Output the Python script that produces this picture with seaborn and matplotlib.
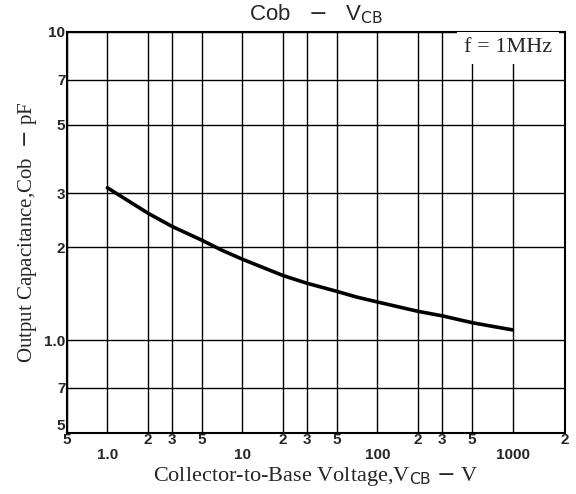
import numpy as np
import pandas as pd
import matplotlib
matplotlib.use('Agg')
import matplotlib.pyplot as plt
import seaborn as sns

# Data
vcb = [1, 2, 3, 5, 7, 10, 20, 30, 50, 70, 100, 200, 300, 500, 700, 1000]
cob = [3.12, 2.58, 2.34, 2.11, 1.96, 1.83, 1.62, 1.53, 1.44, 1.38, 1.33, 1.24, 1.20, 1.14, 1.11, 1.08]

x_left, x_right = 0.5, 2450
x_major = [1, 10, 100, 1000]
x_major_labels = ['1.0', '10', '100', '1000']
x_minor = [0.5, 2, 3, 5, 20, 30, 50, 200, 300, 500, x_right]
x_minor_labels = ['5', '2', '3', '5', '2', '3', '5', '2', '3', '5', '2']
y_ticks = [0.5, 0.7, 1, 2, 3, 5, 7, 10]
y_labels = ['5', '7', '1.0', '2', '3', '5', '7', '10']

df = pd.DataFrame({'VCB': vcb, 'Cob': cob})

sns.set_style('white')
plt.rcParams['font.family'] = ['Liberation Sans', 'DejaVu Sans']

fig = plt.figure(figsize=(5.76, 4.94), dpi=100)
ax = fig.add_axes([0.116, 0.1235, 0.865, 0.812])

sns.lineplot(data=df, x='VCB', y='Cob', color='black', linewidth=2.6, ax=ax)

ax.set_xscale('log')
ax.set_yscale('log')
ax.set_xlim(x_left, x_right)
ax.set_ylim(0.5, 10)

ax.set_xticks(x_major)
ax.set_xticklabels(x_major_labels, fontweight='bold', fontsize=11)
ax.set_xticks(x_minor, minor=True)
ax.set_xticklabels(x_minor_labels, minor=True, fontweight='bold', fontsize=11)
ax.tick_params(axis='x', which='major', length=0, pad=11)
ax.tick_params(axis='x', which='minor', length=0, pad=0)

ax.set_yticks(y_ticks)
ax.set_yticklabels(y_labels, fontweight='bold', fontsize=11)
ax.yaxis.set_minor_locator(matplotlib.ticker.NullLocator())
ax.tick_params(axis='y', which='major', length=0, pad=1)
ax.get_yticklabels()[0].set_va('bottom')

ax.grid(True, which='both', color='black', linewidth=1.0)
for s in ax.spines.values():
    s.set_color('black')
    s.set_linewidth(1.5)

ax.set_xlabel('Collector-to-Base Voltage,V$_{\\rm CB}$ $-$ V', family='Liberation Serif',
              fontsize=16, labelpad=2)
ax.set_ylabel('Output Capacitance,Cob  $-$ pF', family='Liberation Serif', fontsize=15,
              labelpad=4)
ax.set_title('Cob   $-$   V$_{\\rm CB}$', fontsize=16, pad=8)

ax.text(0.974, 0.96, 'f = 1MHz', transform=ax.transAxes, ha='right', va='center',
        family='Liberation Serif', fontsize=16,
        bbox=dict(boxstyle='square,pad=0.3', facecolor='white', edgecolor='none'))

fig.savefig('out.png', dpi=100)
